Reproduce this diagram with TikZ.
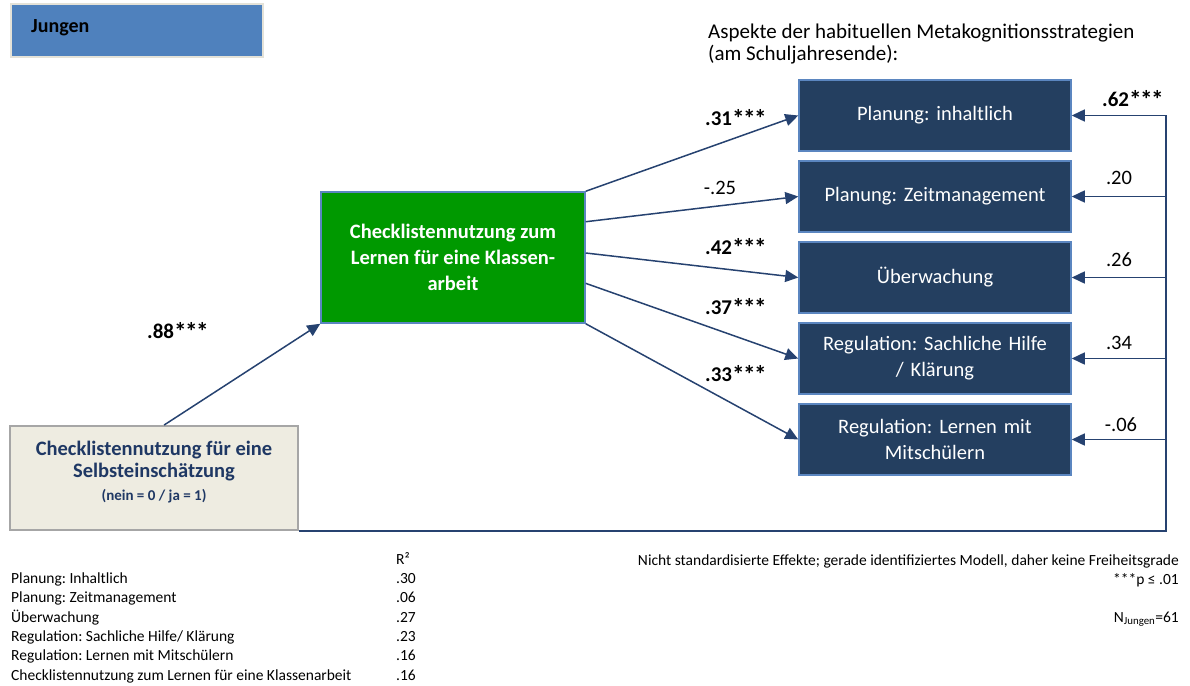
\documentclass[tikz,border=0pt]{standalone}
\usepackage{fontspec}
\setmainfont{Carlito}
\usetikzlibrary{arrows.meta,calc}
\definecolor{groupblue}{HTML}{4F81BD}
\definecolor{groupedge}{HTML}{E4E2D8}
\definecolor{navyfill}{HTML}{243F60}
\definecolor{navyedge}{HTML}{5B86C0}
\definecolor{linkcol}{HTML}{264270}
\definecolor{mediator}{HTML}{009900}
\definecolor{beige}{HTML}{EEECE1}
\definecolor{beigeedge}{HTML}{A6A6A6}
\definecolor{navytext}{HTML}{1F3864}
% significance stars, a bit larger and tighter than the plain glyph
\newcommand\onestar{\raisebox{-0.07em}{\scalebox{1.2}{*}}}
\newcommand\sigstars{\onestar\kern-1.5pt\onestar\kern-1.5pt\onestar}
\begin{document}
\frenchspacing
\begin{tikzpicture}[x=1pt,y=-1pt,
  outcome/.style={draw=navyedge, line width=1.5pt, fill=navyfill, text=white,
    minimum width=272pt, minimum height=71pt, inner sep=0pt, align=center,
    text width=262pt, font=\fontsize{20.5}{26}\selectfont},
  conn/.style={draw=linkcol, line width=1.5pt,
    -{Triangle[length=13pt,width=12pt]}},
  coef/.style={font=\fontsize{21}{24}\selectfont\bfseries, inner sep=0pt},
  coefn/.style={font=\fontsize{20.5}{24}\selectfont, inner sep=0pt},
  small/.style={font=\fontsize{15.5}{18}\selectfont, inner sep=0pt, anchor=base west},
  note/.style={font=\fontsize{15.5}{18}\selectfont, inner sep=0pt, anchor=base east}
]
\useasboundingbox (0,0) rectangle (1190,685);

% group label
\node[draw=groupedge, line width=1.5pt, fill=groupblue, minimum width=252pt,
  minimum height=53pt, inner sep=0pt] (group) at (137,30.5) {};
\node[font=\fontsize{20}{24}\selectfont\bfseries, anchor=west, inner sep=0pt]
  (grouplabel) at (31,28) {Jungen};

% heading of the outcome column
\node[font=\fontsize{21}{24}\selectfont, anchor=base west, inner sep=0pt]
  (head1) at (708,38) {Aspekte der habituellen Metakognitionsstrategien};
\node[font=\fontsize{21}{24}\selectfont, anchor=base west, inner sep=0pt]
  (head2) at (708,60) {(am Schuljahresende):};

% predictor
\node[draw=beigeedge, line width=2pt, fill=beige, minimum width=288pt,
  minimum height=104pt, inner sep=0pt] (self) at (154,478) {};
\node[align=center, text=navytext, inner sep=0pt,
  font=\fontsize{20.5}{22.5}\selectfont\bfseries] (selftext) at (154,472)
  {Checklistennutzung für eine\\Selbsteinschätzung\\
   {\fontsize{15}{22}\selectfont (nein = 0 / ja = 1)}};

% mediator
\node[draw=navyedge, line width=1.5pt, fill=mediator, text=white,
  minimum width=264pt, minimum height=131pt, inner sep=0pt, align=center,
  font=\fontsize{20.5}{26}\selectfont\bfseries] (chk) at (453,257.5)
  {Checklistennutzung zum\\Lernen für eine Klassen-\\arbeit};

% outcomes
\node[outcome] (p1) at (935,115.5) {Planung: inhaltlich};
\node[outcome] (p2) at (935,196.5) {Planung: Zeitmanagement};
\node[outcome] (p3) at (935,277.5) {Überwachung};
\node[outcome] (p4) at (935,358.5) {Regulation: Sachliche Hilfe\\/ Klärung};
\node[outcome] (p5) at (935,439.5) {Regulation: Lernen mit\\Mitschülern};

% paths through the mediator
\draw[conn] ($(self.north west)!0.535!(self.north east)$) -- (chk.south west);
\draw[conn] (chk.north east) -- (p1.west);
\draw[conn] ($(chk.north east)!0.23!(chk.south east)$) -- (p2.west);
\draw[conn] ($(chk.north east)!0.466!(chk.south east)$) -- (p3.west);
\draw[conn] ($(chk.north east)!0.695!(chk.south east)$) -- (p4.west);
\draw[conn] (chk.south east) -- (p5.west);

% direct effects of the predictor
\coordinate (fbx) at (1166,0);
\draw[conn] (self.south east) -- (self.south east -| fbx) |- (p1.east);
\draw[conn] (p2.east -| fbx) -- (p2.east);
\draw[conn] (p3.east -| fbx) -- (p3.east);
\draw[conn] (p4.east -| fbx) -- (p4.east);
\draw[conn] (p5.east -| fbx) -- (p5.east);

% coefficients
\node[coef] (c88) at (178,331) {.88\sigstars};
\node[coef] (c31) at (736,118) {.31\sigstars};
\node[coefn] (c25) at (720,188) {-.25};
\node[coef] (c42) at (736,247) {.42\sigstars};
\node[coef] (c37) at (736,307) {.37\sigstars};
\node[coef] (c33) at (736,374) {.33\sigstars};
\node[coef] (d62) at (1133,99) {.62\sigstars};
\node[coefn] (d20) at (1119,178) {.20};
\node[coefn] (d26) at (1119,260) {.26};
\node[coefn] (d34) at (1119,343) {.34};
\node[coefn] (d06) at (1121,425) {-.06};

% explained variance
\node[small] (rhead) at (396,564) {R²};
\foreach \lab/\val/\yy [count=\i] in {
  {Planung: Inhaltlich}/.30/583,
  {Planung: Zeitmanagement}/.06/602.5,
  {Überwachung}/.27/622,
  {Regulation: Sachliche Hilfe/ Klärung}/.23/641,
  {Regulation: Lernen mit Mitschülern}/.16/660.5,
  {Checklistennutzung zum Lernen für eine Klassenarbeit}/.16/680}{
  \node[small] (rl\i) at (11,\yy) {\lab};
  \node[small] (rv\i) at (396,\yy) {\val};
}

% notes
\node[note] (n1) at (1179,565) {Nicht standardisierte Effekte; gerade identifiziertes Modell, daher keine Freiheitsgrade};
\node[note] (n2) at (1179,584) {***p ≤ .01};
\node[note] (n3) at (1179,622) {N\textsubscript{Jungen}=61};
\end{tikzpicture}
\end{document}
